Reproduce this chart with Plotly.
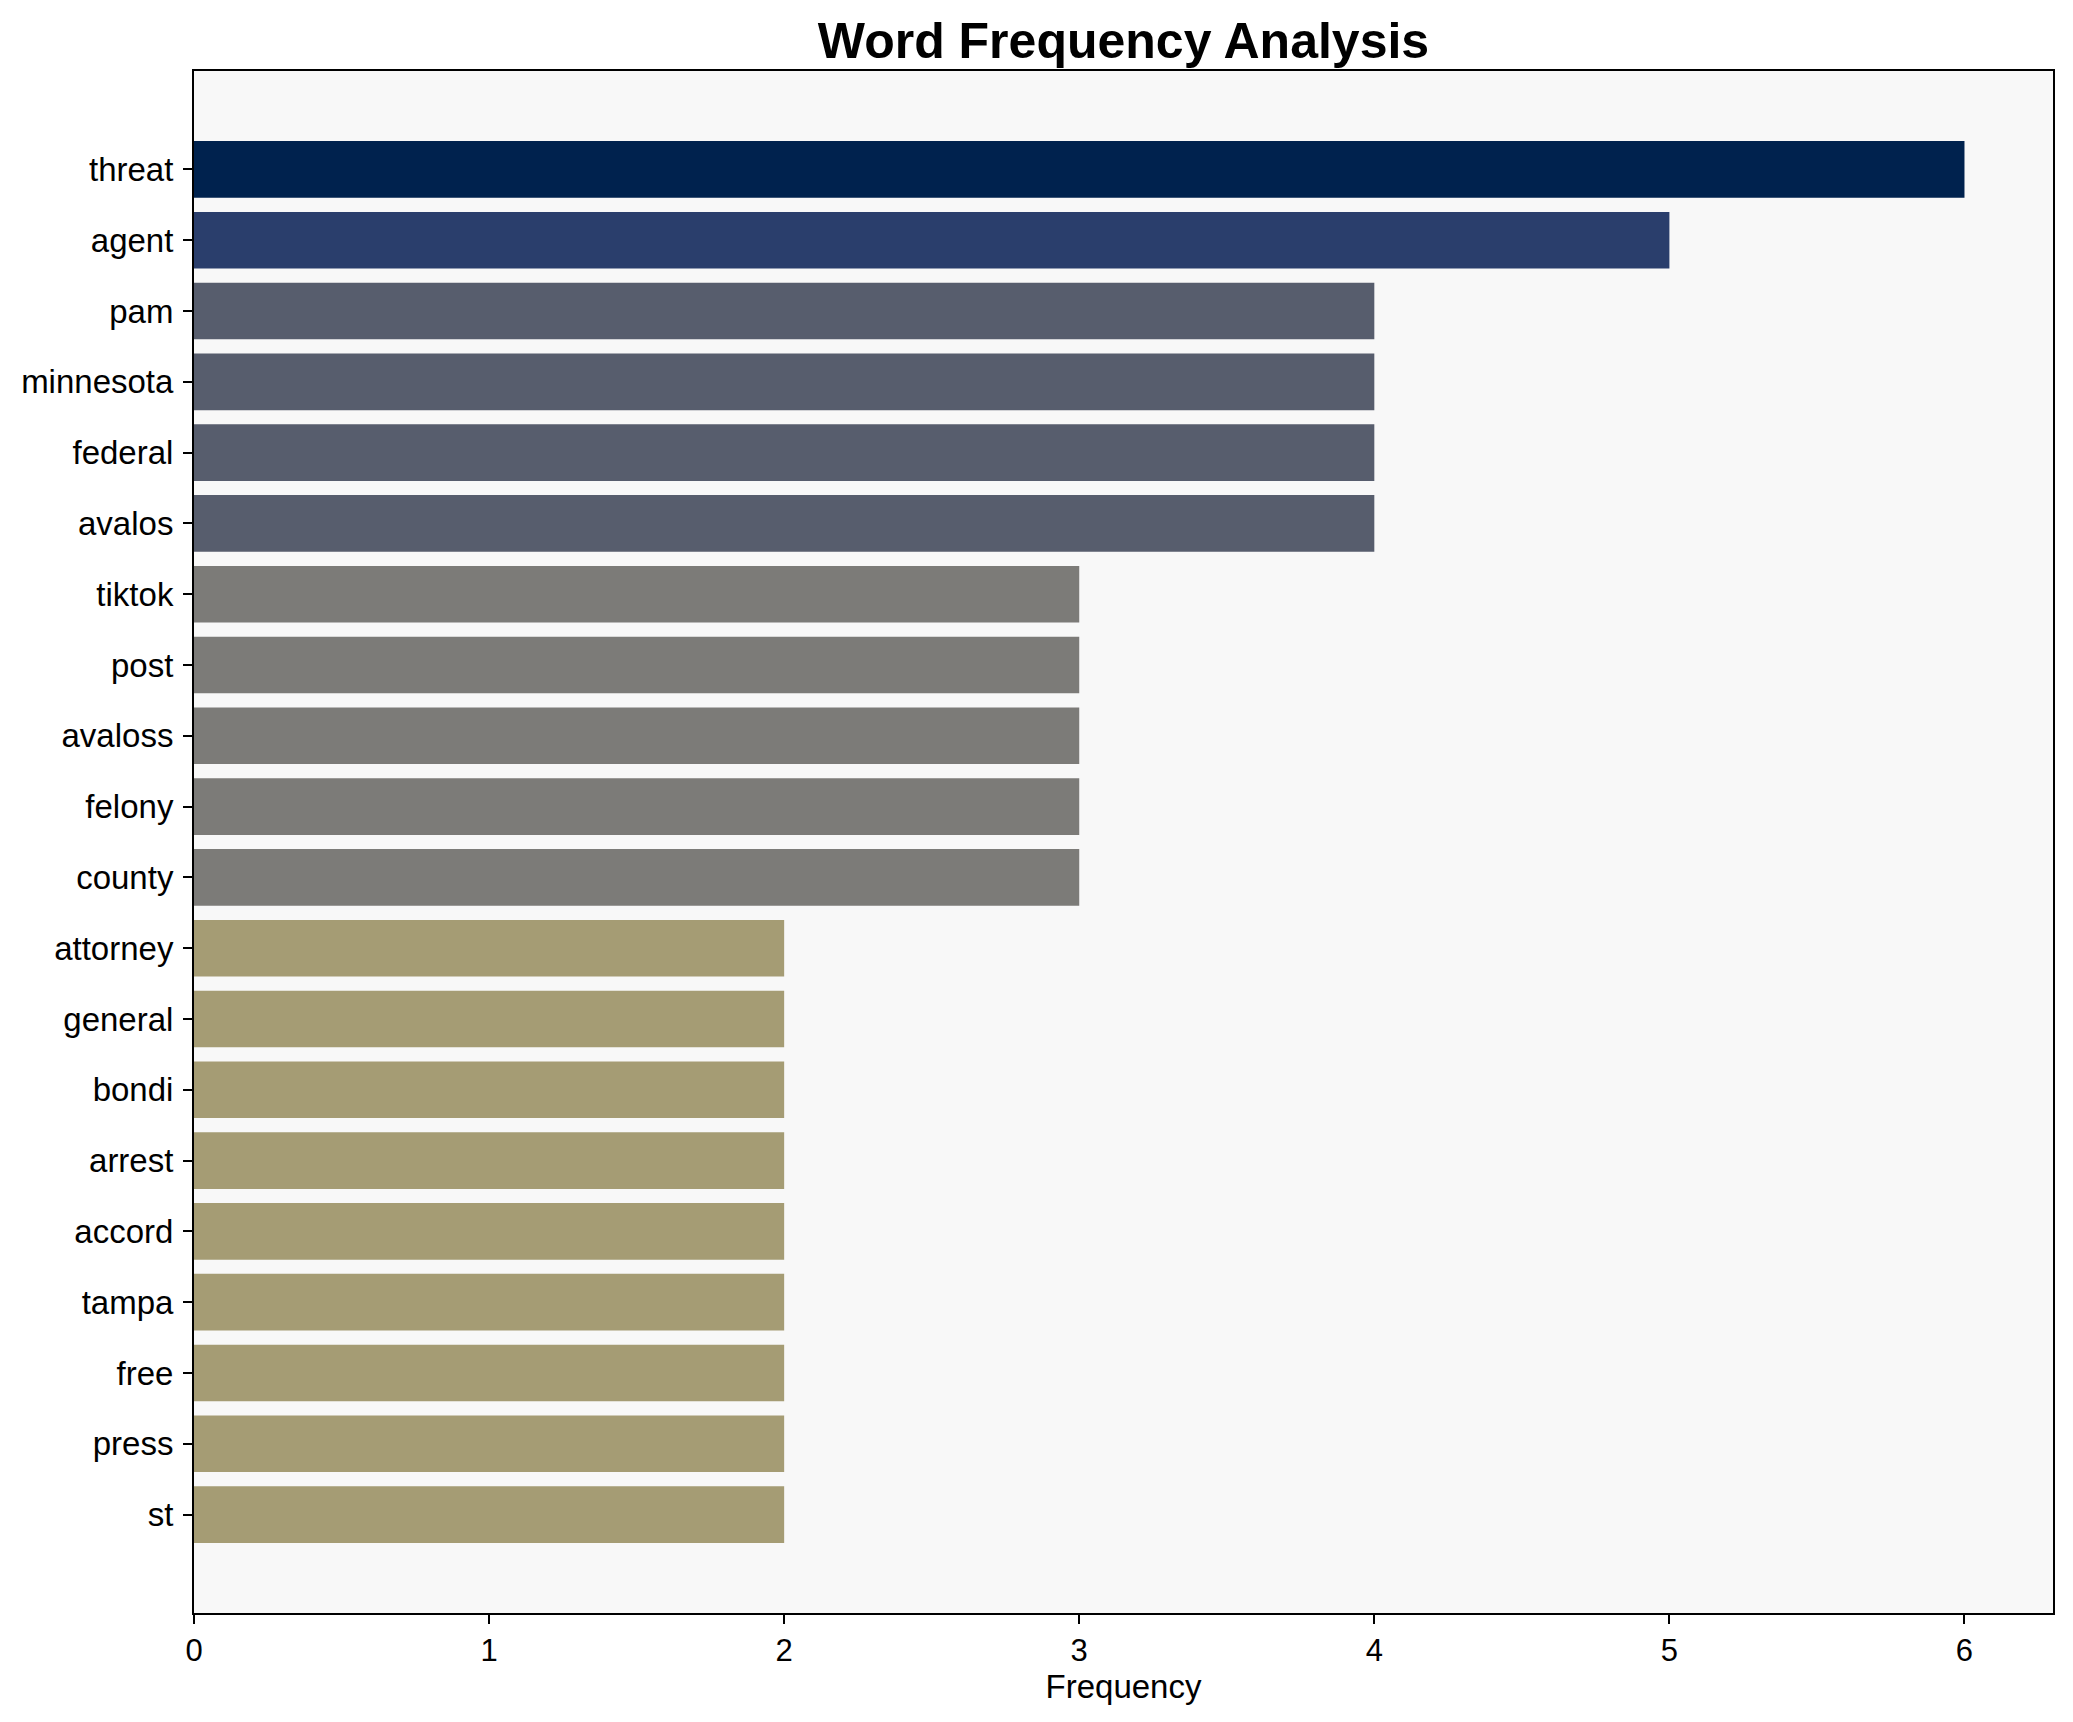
import plotly.graph_objects as go

words = ["threat", "agent", "pam", "minnesota", "federal", "avalos", "tiktok", "post",
         "avaloss", "felony", "county", "attorney", "general", "bondi", "arrest", "accord",
         "tampa", "free", "press", "st"]
freqs = [6, 5, 4, 4, 4, 4, 3, 3, 3, 3, 3, 2, 2, 2, 2, 2, 2, 2, 2, 2]
freq_colors = {6: "#00224e", 5: "#2a3e6c", 4: "#575d6d", 3: "#7c7b78", 2: "#a59c74"}
bar_colors = [freq_colors[f] for f in freqs]

W, H = 2073, 1722
L, R, T, B = 186, 28, 63, 117
FONT = "Liberation Sans, Arial, sans-serif"

fig = go.Figure(go.Bar(
    x=freqs, y=words, orientation="h", marker=dict(color=bar_colors, line=dict(width=0)),
    width=0.8,
))

n = len(words)
fig.update_layout(
    width=W, height=H,
    margin=dict(l=L, r=R, t=T, b=B, autoexpand=False),
    paper_bgcolor="white", plot_bgcolor="#f8f8f8",
    font=dict(family=FONT, size=32, color="black"),
    title=dict(text="<b>Word Frequency Analysis</b>", x=(L + (W - R)) / 2 / W, xanchor="center",
               y=1 - 32 / H, yanchor="middle", yref="container",
               font=dict(size=50, family=FONT, color="black")),
    showlegend=False,
    bargap=0.2,
)
fig.update_xaxes(
    range=[0, 6.3], tickmode="linear", dtick=1, tick0=0,
    showline=True, linecolor="black", linewidth=2, mirror=True,
    ticks="outside", ticklen=9, tickwidth=2, tickcolor="black",
    showgrid=False, zeroline=False,
    tickfont=dict(size=31),
    title=dict(text="Frequency", standoff=7, font=dict(size=33)),
)
fig.update_yaxes(
    type="category", categoryorder="array", categoryarray=words,
    range=[n - 1 + 0.4 + 0.99, -0.4 - 0.99],
    showline=True, linecolor="black", linewidth=2, mirror=True,
    ticks="outside", ticklen=9, tickwidth=2, tickcolor="black",
    showgrid=False, zeroline=False,
    tickfont=dict(size=33), ticklabelstandoff=3,
)

fig.write_html("out.html")
